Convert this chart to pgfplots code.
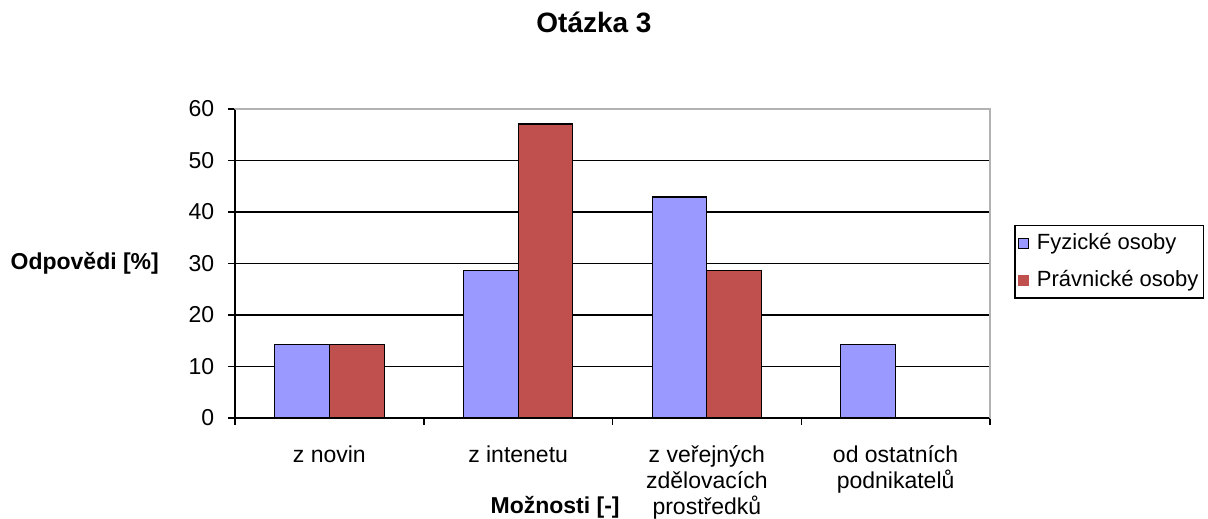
\documentclass[border=0pt]{standalone}
\usepackage{pgfplots}
\pgfplotsset{compat=1.18}
\usepackage{fontspec}
\setmainfont{Liberation Sans}
\definecolor{cblue}{HTML}{9999FF}
\definecolor{cred}{HTML}{C0504D}
\begin{document}
\fontsize{23pt}{27pt}\selectfont
\begin{tikzpicture}
\useasboundingbox (0,0) rectangle (1208pt,519pt);
\begin{axis}[
  at={(235pt,101pt)}, anchor=south west,
  width=755pt, height=309pt, scale only axis,
  xmin=-0.5, xmax=3.5, ymin=0, ymax=60,
  ybar=0pt, bar width=0.29,
  ytick={0,10,...,60},
  xtick={0,1,2,3},
  xticklabels={z novin, z intenetu, {z veřejných\\zdělovacích\\prostředků}, {od ostatních\\podnikatelů}},
  minor xtick={-0.5,0.5,1.5,2.5,3.5},
  xtick pos=left, ytick pos=left,
  tick align=outside,
  major tick length=7pt, minor tick length=7pt,
  major x tick style={draw=none},
  every tick/.style={black, line width=1.5pt},
  minor tick style={black, line width=1.5pt},
  axis line style={gray!60, line width=1.5pt},
  ymajorgrids, grid style={black, line width=1.5pt},
  tick label style={font=\fontsize{23pt}{26pt}\selectfont},
  /pgf/number format/assume math mode=true,
  xticklabel style={align=center, anchor=north, yshift=-13pt},
  yticklabel style={xshift=-6pt},
  ylabel={\bfseries Odpovědi [\%]},
  ylabel style={rotate=-90, at={(axis description cs:-0.199,0.502)}, anchor=center, font=\fontsize{23pt}{27pt}\selectfont},
  xlabel={\bfseries Možnosti [-]},
  xlabel style={at={(axis description cs:0.424,-0.288)}, anchor=center, font=\fontsize{23pt}{27pt}\selectfont},
  title={\bfseries Otázka 3},
  title style={at={(axis description cs:0.4755,1.262)}, anchor=center, font=\fontsize{28pt}{32pt}\selectfont},
  legend style={at={(axis description cs:1.0318,0.6246)}, anchor=north west, draw=black, line width=1.5pt,
    font=\fontsize{22pt}{26pt}\selectfont, legend cell align=left, row sep=13pt, inner xsep=3pt, inner ysep=6pt,
    /tikz/every odd column/.append style={column sep=6pt}},
  clip=false,
]
\addplot[fill=cblue, draw=black, line width=1.2pt,
  legend image code/.code={\draw[fill=cblue, draw=black, line width=1.2pt] (0pt,-5pt) rectangle (10pt,5pt);}]
  coordinates {(0,14.3) (1,28.6) (2,42.9) (3,14.3)};
\addplot[fill=cred, draw=black, line width=1.2pt,
  legend image code/.code={\fill[cred] (0pt,-5pt) rectangle (10pt,5pt);}]
  coordinates {(0,14.3) (1,57.1) (2,28.6) (3,0)};
\legend{Fyzické osoby, Právnické osoby}
\draw[black, line width=1.5pt] (axis cs:-0.5,60) -- (axis cs:-0.5,0) -- (axis cs:3.5,0);
\draw[gray!60, line width=1.5pt] (axis cs:-0.5,60) -- (axis cs:3.5,60) -- (axis cs:3.5,0);
\end{axis}
\end{tikzpicture}
\end{document}
